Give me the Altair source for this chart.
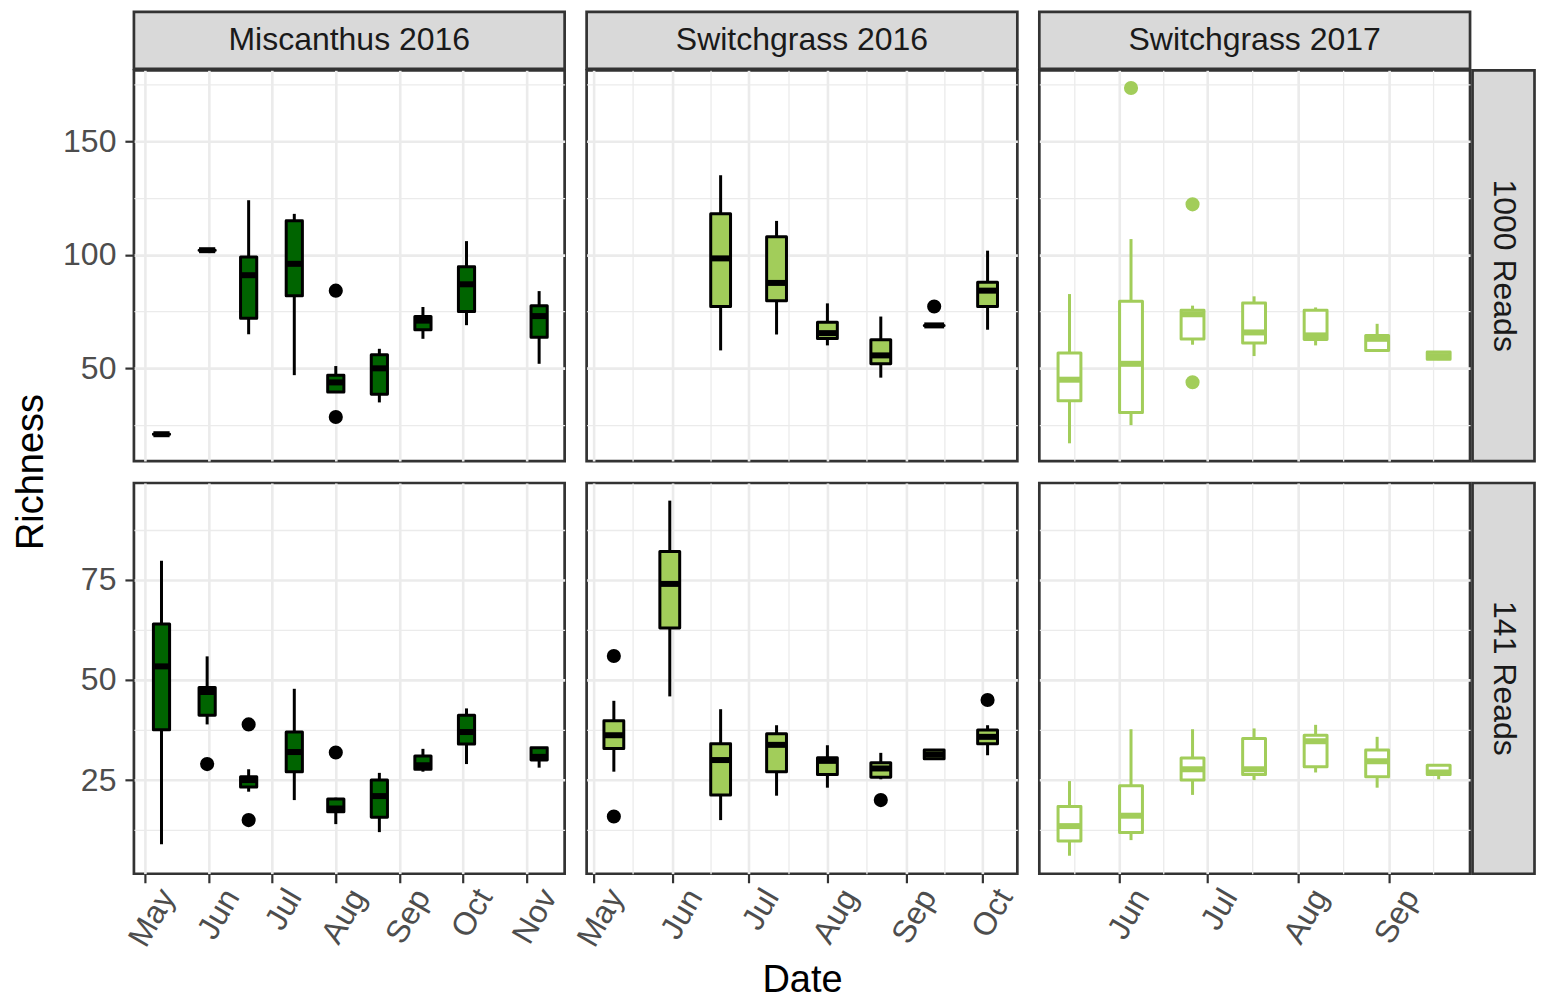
import altair as alt
import pandas as pd

# ---------------- data ----------------
MIS_DATES = ["2016-05-09", "2016-05-31", "2016-06-20", "2016-07-12", "2016-08-01",
             "2016-08-22", "2016-09-12", "2016-10-03", "2016-11-07"]
MIS_1000_LO = [21, 102, 65, 47, 39.5, 35, 63, 69, 52]
MIS_1000_Q1 = [21, 102, 72, 82, 39.6, 38.6, 67, 75, 63.7]
MIS_1000_MED = [21, 102, 91, 96, 43.8, 50, 71, 87, 73]
MIS_1000_Q3 = [21, 102, 99, 115, 47, 56, 72.8, 94.7, 77.6]
MIS_1000_HI = [21, 102, 124, 118, 51, 58.6, 77, 106, 84]
MIS_1000_OUT_DATES = ["2016-08-01", "2016-08-01"]
MIS_1000_OUT_VALS = [84.2, 28.6]

MIS_141_LO = [9, 38.9, 22.1, 20, 14, 12, 27.1, 29, 28.1]
MIS_141_Q1 = [37.6, 41.2, 23.3, 27.1, 17.1, 15.7, 27.7, 34, 30]
MIS_141_MED = [53.4, 47, 25, 32, 17.9, 21, 28.7, 37, 30.8]
MIS_141_Q3 = [64, 48.1, 25.8, 37, 20.3, 25, 31, 41.2, 33.1]
MIS_141_HI = [79.8, 55.9, 27.7, 47.8, 20.6, 26.8, 32.8, 42.9, 33.1]
MIS_141_OUT_DATES = ["2016-05-31", "2016-06-20", "2016-06-20", "2016-08-01"]
MIS_141_OUT_VALS = [29.0, 38.9, 15.0, 31.9]

SW16_1000_DATES = ["2016-06-20", "2016-07-12", "2016-08-01", "2016-08-22", "2016-09-12", "2016-10-03"]
SW16_1000_LO = [57.9, 64.9, 60.1, 45.9, 68.9, 67]
SW16_1000_Q1 = [77.2, 79.8, 63.1, 52.0, 68.9, 77.2]
SW16_1000_MED = [98.4, 87.6, 65.5, 55.7, 68.9, 84.2]
SW16_1000_Q3 = [118.1, 107.9, 70.3, 62.6, 68.9, 87.9]
SW16_1000_HI = [135, 114.9, 78.6, 72.8, 68.9, 101.8]
SW16_1000_OUT_DATES = ["2016-09-12"]
SW16_1000_OUT_VALS = [77.2]

SW16_141_DATES = ["2016-05-09", "2016-05-31", "2016-06-20", "2016-07-12", "2016-08-01",
                  "2016-08-22", "2016-09-12", "2016-10-03"]
SW16_141_LO = [27.1, 45.9, 15, 21.1, 23.1, 25.2, 30.3, 31.2]
SW16_141_Q1 = [32.9, 63, 21.3, 27.1, 26.4, 25.7, 30.3, 34.1]
SW16_141_MED = [36.2, 74, 30, 33.8, 29.8, 27.9, 31.4, 35.8]
SW16_141_Q3 = [39.8, 82.1, 34.1, 36.6, 30.6, 29.3, 32.5, 37.5]
SW16_141_HI = [44.8, 94.8, 42.7, 38.7, 33.7, 31.8, 32.5, 38.7]
SW16_141_OUT_DATES = ["2016-05-09", "2016-05-09", "2016-08-22", "2016-10-03"]
SW16_141_OUT_VALS = [56.0, 15.9, 20.0, 45.0]

SW17_DATES = ["2017-05-15", "2017-06-05", "2017-06-26", "2017-07-17", "2017-08-07",
              "2017-08-28", "2017-09-18"]
SW17_1000_LO = [17, 25, 60.4, 55.4, 60.1, 57.2, 53.6]
SW17_1000_Q1 = [35.7, 30.6, 62.9, 61.2, 62.7, 57.9, 54.0]
SW17_1000_MED = [45, 52, 73.8, 65.8, 64.5, 63.0, 55.4]
SW17_1000_Q3 = [56.7, 79.5, 75.6, 78.8, 75.6, 64.5, 57.2]
SW17_1000_HI = [82.7, 106.9, 77.6, 81.7, 76.8, 69.6, 57.2]
SW17_1000_OUT_DATES = ["2017-06-05", "2017-06-26", "2017-06-26"]
SW17_1000_OUT_VALS = [173.4, 122.2, 43.9]

SW17_141_LO = [6.1, 10.0, 21.3, 25.0, 26.9, 23.1, 25.2]
SW17_141_Q1 = [9.8, 11.9, 25.0, 26.4, 28.3, 25.8, 26.4]
SW17_141_MED = [13.5, 16.1, 27.7, 27.7, 34.7, 29.7, 26.9]
SW17_141_Q3 = [18.4, 23.6, 30.5, 35.4, 36.2, 32.5, 28.7]
SW17_141_HI = [24.75, 37.7, 37.7, 37.9, 38.8, 35.8, 28.7]

COLUMN_TITLES = ["Miscanthus 2016", "Switchgrass 2016", "Switchgrass 2017"]
ROW_TITLES = ["1000 Reads", "141 Reads"]
Y_TITLE = "Richness"
X_TITLE = "Date"

# ---------------- styling ----------------
FONT = "Liberation Sans"
DARK = "#006400"
LIGHT = "#A2CD5A"
BLACK = "#000000"
GRID = "#EBEBEB"
BORDER = "#333333"
STRIP_FILL = "#D9D9D9"
SMALL = 32        # tick labels and strip text
BIG = 38          # axis titles

PW = 431          # panel width
PH = 391          # panel height
SH = 57           # top strip height
SWD = 62          # right strip width
GAP = 22
STROKE = 2.7
HALF_DAYS = 3.9   # half box width in days
LW = 3.0          # box / whisker line width

X_DOMAINS = [
    ("2016-04-25 17:00", "2016-11-19 07:00"),
    ("2016-04-28 07:00", "2016-10-14 17:00"),
    ("2017-05-04 17:00", "2017-09-28 17:00"),
]
Y_DOMAINS = [(9.2, 181.2), (1.6, 99.2)]
Y_STEPS = [50, 25]


def dt(ts):
    ts = pd.Timestamp(ts)
    return alt.DateTime(year=ts.year, month=ts.month, date=ts.day,
                        hours=ts.hour, minutes=ts.minute)


def month_ticks(start, end):
    start, end = pd.Timestamp(start), pd.Timestamp(end)
    first = start.to_period("M").to_timestamp() - pd.offsets.MonthBegin(1)
    majors = pd.date_range(first, end + pd.offsets.MonthBegin(1), freq="MS")
    vals = []
    for i in range(len(majors)):
        if start <= majors[i] <= end:
            vals.append(majors[i])
        if i + 1 < len(majors):
            mid = majors[i] + (majors[i + 1] - majors[i]) / 2
            if start <= mid <= end:
                vals.append(mid)
    return sorted(vals)


def y_ticks(lo, hi, step):
    vals = []
    v = step / 2.0
    while v <= hi:
        if v >= lo:
            vals.append(v)
        v += step / 2.0
    return vals


def box_df(dates, lo, q1, med, q3, hi):
    d = pd.to_datetime(dates)
    return pd.DataFrame({
        "date": d,
        "xlo": d - pd.Timedelta(days=HALF_DAYS),
        "xhi": d + pd.Timedelta(days=HALF_DAYS),
        "lo": lo, "q1": q1, "med": med, "q3": q3, "hi": hi,
    })


def out_df(dates, vals):
    return pd.DataFrame({"date": pd.to_datetime(dates), "v": vals})


MAJ_X = "date(datum.value) === 1 && hours(datum.value) === 0"


def cond(test, yes, no):
    return {"condition": {"test": test, "value": yes}, "value": no}


def strip_layers(text, x0, x1, y0, y1, angle):
    df = pd.DataFrame({"label": [text]})
    rect = alt.Chart(df).mark_rect(fill=STRIP_FILL, stroke=BORDER, strokeWidth=STROKE).encode(
        x=alt.value(x0), x2=alt.value(x1), y=alt.value(y0), y2=alt.value(y1))
    txt = alt.Chart(df).mark_text(font=FONT, fontSize=SMALL, color="#1A1A1A", angle=angle,
                                  align="center", baseline="middle").encode(
        text="label:N", x=alt.value((x0 + x1) / 2.0), y=alt.value((y0 + y1) / 2.0))
    return [rect, txt]


def title_layer(text, x, y, angle):
    df = pd.DataFrame({"label": [text]})
    return alt.Chart(df).mark_text(font=FONT, fontSize=BIG, color=BLACK, angle=angle,
                                   align="center", baseline="alphabetic").encode(
        text="label:N", x=alt.value(x), y=alt.value(y))


def panel(box, out, col, row, fill, line, xtitle=None):
    xdom = X_DOMAINS[col]
    ydom = Y_DOMAINS[row]
    step = Y_STEPS[row]
    show_x = row == 1
    show_y = col == 0
    maj_y = "datum.value %% %d === 0" % step

    xaxis = dict(
        values=[dt(v) for v in month_ticks(*xdom)],
        grid=True, gridColor=GRID, gridWidth=cond(MAJ_X, 2.6, 1.3),
        domain=False,
        labels=show_x, ticks=show_x,
        tickOpacity=cond(MAJ_X, 1, 0),
        tickSize=9, tickWidth=2.2, tickColor=BORDER,
        labelExpr="date(datum.value) === 1 ? timeFormat(datum.value, '%b') : ''",
        labelFontSize=cond(MAJ_X, SMALL, 0),
        labelOverlap=False, labelFlush=False,
        labelAngle=300, labelAlign="right", labelBaseline="top",
        labelPadding=1, labelOffset=9,
        title=xtitle,
    )
    if xtitle:
        xaxis.update(titlePadding=10)
    yaxis = dict(
        values=y_ticks(ydom[0], ydom[1], step),
        grid=True, gridColor=GRID, gridWidth=cond(maj_y, 2.6, 1.3),
        domain=False,
        labels=show_y, ticks=show_y,
        tickOpacity=cond(maj_y, 1, 0),
        tickSize=9, tickWidth=2.2, tickColor=BORDER,
        labelExpr=maj_y + " ? datum.label : ''",
        labelFontSize=cond(maj_y, SMALL, 0),
        labelOverlap=False, labelFlush=False, labelPadding=9,
        title=None,
    )

    base = alt.Chart(box)
    x = alt.X("date:T", scale=alt.Scale(domain=[dt(xdom[0]), dt(xdom[1])], nice=False),
              axis=alt.Axis(**xaxis))
    y = alt.Y("lo:Q", scale=alt.Scale(domain=list(ydom), nice=False, zero=False),
              axis=alt.Axis(**yaxis))
    whisk = base.mark_rule(color=line, strokeWidth=LW, strokeCap="butt").encode(
        x=x, y=y, y2="hi")
    boxes = base.mark_rect(fill=fill, stroke=line, strokeWidth=LW, strokeJoin="round").encode(
        x="xlo:T", x2="xhi", y="q1:Q", y2="q3")
    med = base.mark_rule(color=line, strokeWidth=2 * LW, strokeCap="butt").encode(
        x="xlo:T", x2="xhi", y="med:Q")
    layers = [whisk, boxes, med]
    if out is not None:
        layers.append(alt.Chart(out).mark_circle(size=200, color=line, opacity=1).encode(
            x="date:T", y="v:Q"))
    # facet strips and the shared y title
    if row == 0:
        layers += strip_layers(COLUMN_TITLES[col], 0, PW, -SH - 1.5, -1.5, 0)
    if col == 2:
        layers += strip_layers(ROW_TITLES[row], PW + 2.5, PW + 2.5 + SWD, 0, PH, 90)
    if row == 1 and col == 0:
        layers.append(title_layer(Y_TITLE, -91, -GAP / 2.0, 270))
    return alt.layer(*layers).properties(width=PW, height=PH)


p11 = panel(box_df(MIS_DATES, MIS_1000_LO, MIS_1000_Q1, MIS_1000_MED, MIS_1000_Q3, MIS_1000_HI),
            out_df(MIS_1000_OUT_DATES, MIS_1000_OUT_VALS), 0, 0, DARK, BLACK)
p12 = panel(box_df(SW16_1000_DATES, SW16_1000_LO, SW16_1000_Q1, SW16_1000_MED, SW16_1000_Q3, SW16_1000_HI),
            out_df(SW16_1000_OUT_DATES, SW16_1000_OUT_VALS), 1, 0, LIGHT, BLACK)
p13 = panel(box_df(SW17_DATES, SW17_1000_LO, SW17_1000_Q1, SW17_1000_MED, SW17_1000_Q3, SW17_1000_HI),
            out_df(SW17_1000_OUT_DATES, SW17_1000_OUT_VALS), 2, 0, "#FFFFFF", LIGHT)
p21 = panel(box_df(MIS_DATES, MIS_141_LO, MIS_141_Q1, MIS_141_MED, MIS_141_Q3, MIS_141_HI),
            out_df(MIS_141_OUT_DATES, MIS_141_OUT_VALS), 0, 1, DARK, BLACK)
p22 = panel(box_df(SW16_141_DATES, SW16_141_LO, SW16_141_Q1, SW16_141_MED, SW16_141_Q3, SW16_141_HI),
            out_df(SW16_141_OUT_DATES, SW16_141_OUT_VALS), 1, 1, LIGHT, BLACK, xtitle=X_TITLE)
p23 = panel(box_df(SW17_DATES, SW17_141_LO, SW17_141_Q1, SW17_141_MED, SW17_141_Q3, SW17_141_HI),
            None, 2, 1, "#FFFFFF", LIGHT)

chart = alt.concat(p11, p12, p13, p21, p22, p23, columns=3, spacing=GAP, bounds="flush").properties(
    padding={"left": 3, "top": 0, "right": 0, "bottom": 0}
).configure_view(
    stroke=BORDER, strokeWidth=STROKE
).configure_axis(
    labelFont=FONT, titleFont=FONT, labelColor="#4D4D4D",
    titleFontSize=BIG, titleColor=BLACK, titleFontWeight="normal"
)

chart.save("out.html", embed_options={"renderer": "svg", "actions": False})
